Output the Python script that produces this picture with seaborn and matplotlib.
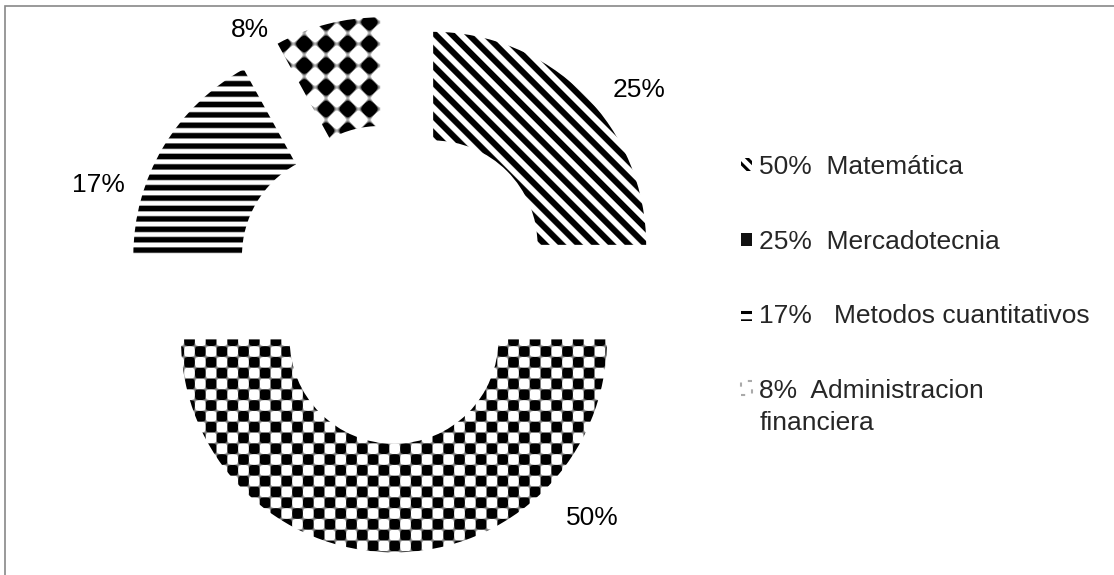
"""
Exploded donut chart with black/white fill patterns.
"""

import numpy as np
import matplotlib
matplotlib.use("Agg")
import matplotlib.pyplot as plt
import seaborn as sns
from matplotlib.patches import Patch, Rectangle
from matplotlib.legend_handler import HandlerPatch

# slices, counter-clockwise starting at 3 o'clock
slice_values = [25, 8, 17, 50]
slice_labels = ["25%", "8%", "17%", "50%"]
slice_patterns = ["diagonal", "diamond", "horizontal", "checker"]

# legend entries as written in the original chart
legend_labels = [
    "50%  Matemática",
    "25%  Mercadotecnia",
    "17%   Metodos cuantitativos",
    "8%  Administracion\nfinanciera",
]

# label placement (angle in degrees, distance in radius units from wedge centre)
label_angles = [37, 123, 164, 318]
label_dist = [1.21, 1.12, 1.21, 1.25]

W, H = 1114, 575
CX, CY, R = 394, 284, 213  # donut centre / radius in pixels
FS = 19

sns.set_theme(style="white")
plt.rcParams["font.family"] = ["Liberation Sans", "DejaVu Sans"]
plt.rcParams["hatch.linewidth"] = 2.2

fig = plt.figure(figsize=(W / 100, H / 100), dpi=100)
ax = fig.add_axes([0, 0, 1, 1])

wedges, _ = ax.pie(
    slice_values,
    startangle=0,
    counterclock=True,
    explode=[0.26] * len(slice_values),
    radius=1,
    colors=["white"] * len(slice_values),
    wedgeprops=dict(width=0.51, linewidth=0),
)

extent = (-CX / R, (W - CX) / R, -(H - CY) / R, CY / R)

# pixel grid for the fill textures
yy, xx = np.mgrid[0:H, 0:W].astype(float)


def soft(v, edge):
    return np.clip(0.5 + v / edge, 0, 1)


def texture(kind):
    if kind == "diagonal":
        return soft(np.cos(2 * np.pi * (xx - yy) / 16.7) + 0.05, 0.6)
    if kind == "horizontal":
        return soft(np.cos(2 * np.pi * yy / 10.4) + 0.1, 0.9)
    if kind == "checker":
        return soft(np.sin(np.pi * xx / 10.8) * np.sin(np.pi * yy / 10.8), 0.3)
    # diamonds
    return soft(np.cos(2 * np.pi * xx / 21.7) + np.cos(2 * np.pi * yy / 21.7) - 0.1, 0.6)


for w, kind in zip(wedges, slice_patterns):
    im = ax.imshow(texture(kind), cmap="gray_r", vmin=0, vmax=1, extent=extent,
                   interpolation="nearest", zorder=2)
    im.set_clip_path(w)

for w, lbl, ang, dist in zip(wedges, slice_labels, label_angles, label_dist):
    a = np.deg2rad(ang)
    x0, y0 = w.center
    ax.text(x0 + dist * np.cos(a), y0 + dist * np.sin(a), lbl,
            ha="center", va="center", fontsize=FS, color="black")

ax.set_xlim(extent[0], extent[1])
ax.set_ylim(extent[2], extent[3])
ax.set_aspect("equal")
ax.axis("off")

handles = [
    Patch(facecolor="white", edgecolor="black", hatch="\\\\\\", linewidth=0),
    Patch(facecolor="#111111", edgecolor="#111111", linewidth=0),
    Patch(facecolor="white", edgecolor="black", hatch="--", linewidth=0),
    Patch(facecolor="white", edgecolor="#aaaaaa", linewidth=1.5, linestyle=(0, (2, 4))),
]


def first_line_patch(legend, orig_handle, xdescent, ydescent, width, height, fontsize):
    # keep the marker next to the first line of a two-line label
    return Rectangle((-xdescent, -ydescent + 0.72 * fontsize), width, height)


leg = ax.legend(handles, legend_labels, loc="upper left",
                bbox_to_anchor=(741 / W, 1 - 155 / H), bbox_transform=fig.transFigure,
                frameon=False, fontsize=FS, handlelength=0.4, handleheight=0.4,
                handletextpad=0.3, labelspacing=1.92, borderpad=0, borderaxespad=0,
                handler_map={handles[3]: HandlerPatch(patch_func=first_line_patch)})
for t in leg.get_texts():
    t.set_linespacing(1.4)

# chart frame (only the top and left edges fall inside the picture)
fig.add_artist(Rectangle((4.5 / W, -0.05), 1.1, 1 - 5.5 / H + 0.05,
                         transform=fig.transFigure, fill=False,
                         edgecolor="#888888", linewidth=1.2))

fig.savefig("out.png", dpi=100)
plt.close(fig)
